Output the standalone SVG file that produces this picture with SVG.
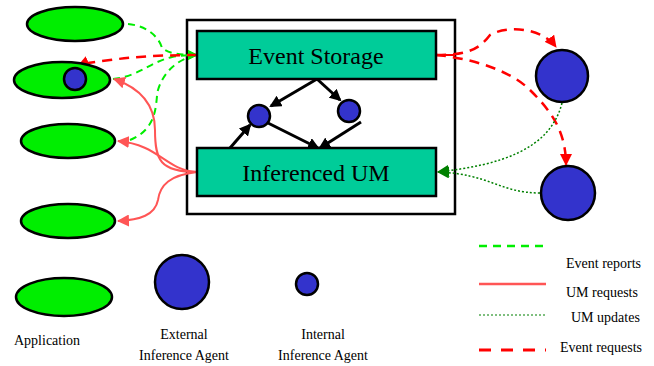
<svg xmlns="http://www.w3.org/2000/svg" width="654" height="366" viewBox="0 0 654 366">
<style>
.app{fill:#00ee00;stroke:#000;stroke-width:2.5}
.agent{fill:#3333cc;stroke:#000;stroke-width:2.5}
.box{fill:#00cc99;stroke:#000;stroke-width:2.5}
.t{font-family:"Liberation Serif",serif;fill:#000}
.er{fill:none;stroke:#00ee00;stroke-width:2;stroke-dasharray:7,5}
.um{fill:none;stroke:#ff5555;stroke-width:2}
.up{fill:none;stroke:#008000;stroke-width:1.5;stroke-dasharray:2,2}
.eq{fill:none;stroke:#ff0000;stroke-width:2.5;stroke-dasharray:10,7}
.in{fill:none;stroke:#000;stroke-width:3}
</style>
<defs>
<marker id="mg" markerWidth="10" markerHeight="10" refX="9" refY="5" orient="auto" markerUnits="userSpaceOnUse"><path d="M0,0L10,5L0,10z" fill="#00ee00"/></marker>
<marker id="mr" markerWidth="12" markerHeight="12" refX="11" refY="6" orient="auto" markerUnits="userSpaceOnUse"><path d="M0,0L12,6L0,12z" fill="#ff0000"/></marker>
<marker id="ml" markerWidth="12" markerHeight="12" refX="11" refY="6" orient="auto" markerUnits="userSpaceOnUse"><path d="M0,0L12,6L0,12z" fill="#ff5555"/></marker>
<marker id="md" markerWidth="12" markerHeight="12" refX="11" refY="6" orient="auto" markerUnits="userSpaceOnUse"><path d="M0,0L12,6L0,12z" fill="#008000"/></marker>
<marker id="mk" markerWidth="12" markerHeight="12" refX="10" refY="6" orient="auto" markerUnits="userSpaceOnUse"><path d="M0,0L12,6L0,12z" fill="#000"/></marker>
</defs>
<rect x="187" y="20" width="268" height="194" fill="#fff" stroke="#000" stroke-width="2.5"/>
<g id="connectors">
<path class="er" d="M128,24 C150,26 160,40 162,48 C170,54 180,55 197,55" marker-end="url(#mg)"/>
<path class="er" d="M113,79 C140,76 150,62 172,57 C182,55 190,55 197,55" marker-end="url(#mg)"/>
<path class="er" d="M130,140 C160,128 155,100 158,90 C164,70 180,58 197,55"/>
<path class="eq" d="M197,55 C170,55 140,56 110,60 C95,62 85,63 78,66" marker-end="url(#mr)"/>
<path class="eq" d="M436,55 C470,55 480,48 490,35 C505,26 540,26 556,47" marker-end="url(#mr)"/>
<path class="eq" d="M436,55 C470,58 510,70 530,90 C550,110 566,130 566,165" marker-end="url(#mr)"/>
<path class="um" d="M197,172 C160,172 155,160 155,130 C155,105 140,88 114,79" marker-end="url(#ml)"/>
<path class="um" d="M197,172 C165,170 160,145 118,141" marker-end="url(#ml)"/>
<path class="um" d="M197,172 C170,175 160,185 158,200 C155,215 140,220 118,221" marker-end="url(#ml)"/>
<path class="up" d="M562,103 C550,150 500,165 438,172" marker-end="url(#md)"/>
<path class="up" d="M540,193 C500,193 490,174 438,172" marker-end="url(#md)"/>
<line x1="436" y1="55" x2="455" y2="55" stroke="#ff0000" stroke-width="2"/>
<line x1="187" y1="55" x2="197" y2="55" stroke="#ff0000" stroke-width="2"/>
<line x1="187" y1="172" x2="197" y2="172" stroke="#ff5555" stroke-width="2"/>
<path class="in" d="M317,79 L271,106" marker-end="url(#mk)"/>
<path class="in" d="M317,79 L340,100" marker-end="url(#mk)"/>
<path class="in" d="M268,123 L318,148" marker-end="url(#mk)"/>
<path class="in" d="M361,122 L320,148" marker-end="url(#mk)"/>
<path class="in" d="M230,148 L250,125" marker-end="url(#mk)"/>
</g>
<g id="app1"><ellipse class="app" cx="75" cy="24" rx="48" ry="17"/></g>
<g id="app2"><ellipse class="app" cx="62" cy="80" rx="48" ry="18"/><circle class="agent" cx="75" cy="79" r="11"/></g>
<g id="app3"><ellipse class="app" cx="68" cy="141" rx="47" ry="17"/></g>
<g id="app4"><ellipse class="app" cx="68" cy="221" rx="47" ry="17"/></g>
<g id="event-storage"><rect class="box" x="197" y="31" width="239" height="48"/><text class="t" x="316" y="64" font-size="24" text-anchor="middle">Event Storage</text></g>
<g id="inferenced-um"><rect class="box" x="197" y="148" width="239" height="48"/><text class="t" x="316" y="181" font-size="24" text-anchor="middle">Inferenced UM</text></g>
<g id="int1"><circle class="agent" cx="259" cy="116" r="11"/></g>
<g id="int2"><circle class="agent" cx="349" cy="111" r="11"/></g>
<g id="ext1"><circle class="agent" cx="562" cy="76" r="26"/></g>
<g id="ext2"><circle class="agent" cx="568" cy="193" r="27"/></g>
<g id="legend">
<ellipse class="app" cx="64" cy="297" rx="48" ry="19"/>
<circle class="agent" cx="182" cy="282" r="27"/>
<circle class="agent" cx="307" cy="284" r="11"/>
<text class="t" x="14" y="345" font-size="14">Application</text>
<text class="t" x="184" y="339" font-size="14" text-anchor="middle">External</text>
<text class="t" x="184" y="360" font-size="14" text-anchor="middle">Inference Agent</text>
<text class="t" x="323" y="339" font-size="14" text-anchor="middle">Internal</text>
<text class="t" x="323" y="360" font-size="14" text-anchor="middle">Inference Agent</text>
<line x1="479" y1="246" x2="547" y2="246" stroke="#00ee00" stroke-width="2.5" stroke-dasharray="8,6"/>
<text class="t" x="566" y="268" font-size="14">Event reports</text>
<line x1="479" y1="284" x2="546" y2="284" stroke="#ff5555" stroke-width="2.5"/>
<text class="t" x="566" y="297" font-size="14">UM requests</text>
<line x1="479" y1="315" x2="547" y2="315" stroke="#008000" stroke-width="1.2" stroke-dasharray="2,2"/>
<text class="t" x="571" y="322" font-size="14">UM updates</text>
<line x1="479" y1="350" x2="546" y2="350" stroke="#ff0000" stroke-width="3" stroke-dasharray="12,10"/>
<text class="t" x="560" y="352" font-size="14">Event requests</text>
</g>
</svg>
